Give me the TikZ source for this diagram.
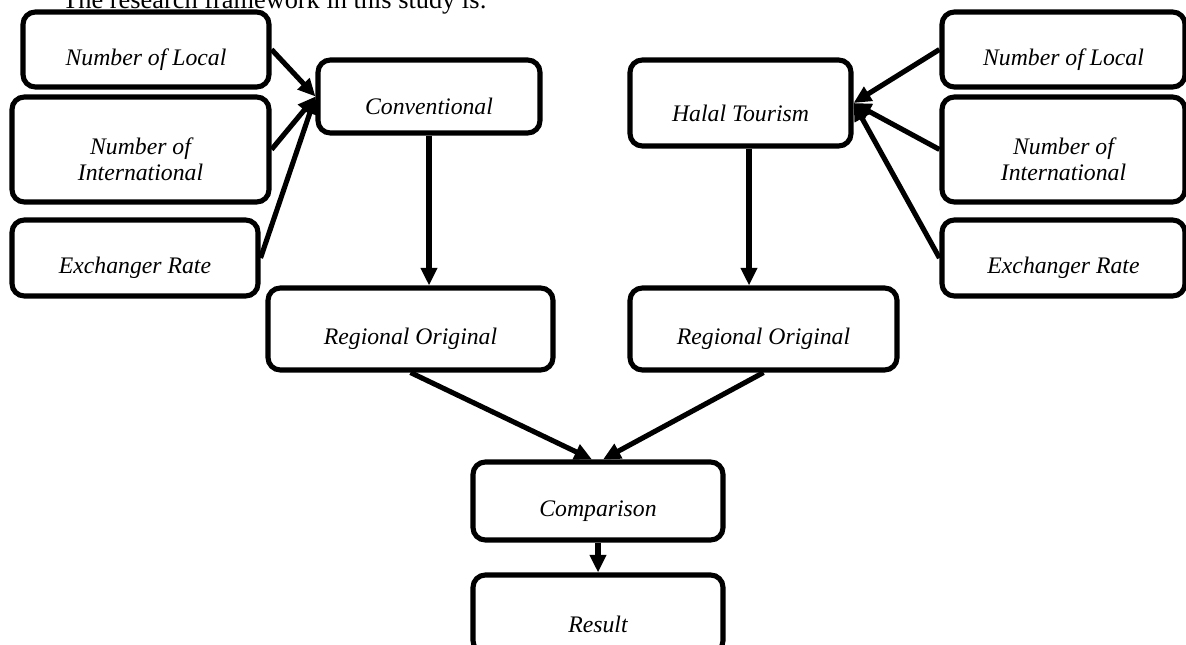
\documentclass[tikz,border=0pt]{standalone}
\usepackage{fontspec}
\setmainfont{Liberation Serif}
\usetikzlibrary{positioning,arrows.meta}
\newcommand{\bx}[4]{node[blk,minimum width=#1*0.02cm,minimum height=#2*0.02cm,label={[txt]center:{#3}}] (#4) {}}
\tikzset{
  blk/.style={draw,line width=2.9pt,rounded corners=7pt,inner sep=0pt},
  txt/.style={font=\fontsize{13.5}{15}\selectfont\itshape,align=center,yshift=-0.2cm},
  arr/.style={line width=2.9pt,-{Triangle[length=10pt,width=9pt]}}
}
\begin{document}
\begin{tikzpicture}[x=0.02cm,y=-0.02cm]
\useasboundingbox (0,0) rectangle (1186,645);
\node[anchor=base west,font=\fontsize{15}{18}\selectfont,inner sep=0pt] (title) at (62,9) {The research framework in this study is:};

\path (146,49.5) \bx{246}{75}{Number of Local}{locL}
  (140.5,149.5) \bx{257}{105}{Number of\\International}{intL}
  (135,258) \bx{246}{76}{Exchanger Rate}{exL};
\path (1063.5,49.5) \bx{243}{75}{Number of Local}{locR}
  (1063.5,149.5) \bx{243}{105}{Number of\\International}{intR}
  (1063.5,258) \bx{243}{76}{Exchanger Rate}{exR};

\path (429,96.5) \bx{222}{73}{Conventional}{conv}
  (740.5,103) \bx{221}{86}{Halal Tourism}{halal};
\path (410.5,329) \bx{285}{82}{Regional Original}{regL}
  (763.5,329) \bx{267}{82}{Regional Original}{regR};
\path (598,501) \bx{250}{78}{Comparison}{comp}
  (598,614) \bx{250}{78}{Result}{res};

\draw[arr] (locL.east) -- (conv.west);
\draw[arr] (intL.east) -- (conv.west);
\draw[arr] (exL.east) -- (conv.west);
\draw[arr] (locR.west) -- (halal.east);
\draw[arr] (intR.west) -- (halal.east);
\draw[arr] (exR.west) -- (halal.east);

\draw[arr] (conv.south) -- (conv.south |- regL.north);
\draw[arr] ([xshift=0.17cm]halal.south) -- ([xshift=0.17cm]halal.south |- regR.north);
\draw[arr] (regL.south) -- ([xshift=-0.12cm]comp.north);
\draw[arr] (regR.south) -- ([xshift=0.1cm]comp.north);
\draw[arr] (comp.south) -- (res.north);
\end{tikzpicture}
\end{document}
